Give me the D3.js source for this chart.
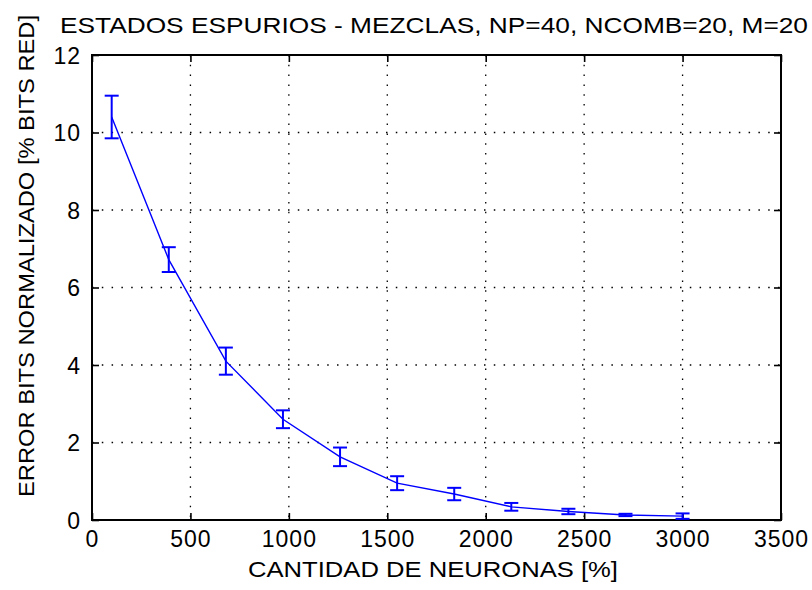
<!DOCTYPE html>
<html>
<head>
<meta charset="utf-8">
<script src="https://cdn.jsdelivr.net/npm/d3@7"></script>
<style>
  body { margin: 0; background: #fff; }
  text { font-family: "Liberation Sans", Arial, sans-serif; fill: #000; }
</style>
</head>
<body>
<div id="chart"></div>
<script>
// data
var neurons = [100, 390, 680, 970, 1260, 1550, 1840, 2130, 2420, 2710, 3000];
var errorMean = [10.4, 6.72, 4.1, 2.6, 1.63, 0.95, 0.67, 0.34, 0.22, 0.13, 0.1];
var errorDev = [0.55, 0.32, 0.35, 0.23, 0.24, 0.18, 0.16, 0.1, 0.07, 0.03, 0.07];
var xTicks = [0, 500, 1000, 1500, 2000, 2500, 3000, 3500];
var yTicks = [0, 2, 4, 6, 8, 10, 12];

var title = "ESTADOS ESPURIOS - MEZCLAS, NP=40, NCOMB=20, M=20";
var xLabel = "CANTIDAD DE NEURONAS [%]";
var yLabel = "ERROR BITS NORMALIZADO [% BITS RED]";

var W = 812, H = 590;
var margin = {top: 55, right: 31, bottom: 70, left: 92},
    width = W - margin.left - margin.right,
    height = H - margin.top - margin.bottom;

var svg = d3.select("#chart")
    .append("svg")
    .attr("width", W)
    .attr("height", H);

svg.append("rect").attr("width", W).attr("height", H).attr("fill", "#fff");

var g = svg.append("g")
    .attr("transform", "translate(" + margin.left + "," + margin.top + ")");

var x = d3.scaleLinear().domain([0, 3500]).range([0, width]);
var y = d3.scaleLinear().domain([0, 12]).range([height, 0]);

// dotted grid
g.append("g").selectAll("line")
    .data(xTicks.slice(1, -1))
    .enter().append("line")
    .attr("x1", function (d) { return x(d); })
    .attr("x2", function (d) { return x(d); })
    .attr("y1", 0).attr("y2", height)
    .attr("stroke", "#000").attr("stroke-width", 1.3)
    .attr("stroke-dasharray", "1.5,8.3");

g.append("g").selectAll("line")
    .data(yTicks.slice(1, -1))
    .enter().append("line")
    .attr("y1", function (d) { return y(d); })
    .attr("y2", function (d) { return y(d); })
    .attr("x1", 0).attr("x2", width)
    .attr("stroke", "#000").attr("stroke-width", 1.3)
    .attr("stroke-dasharray", "1.5,8.3");

// axes with inward ticks on all four sides
var tickLen = 7;
var fmt = d3.format("d");
var bottomAxis = g.append("g")
    .attr("transform", "translate(0," + height + ")")
    .call(d3.axisBottom(x).tickValues(xTicks).tickFormat(fmt).tickSize(-tickLen).tickPadding(tickLen + 6));
var topAxis = g.append("g")
    .call(d3.axisTop(x).tickValues(xTicks).tickSize(-tickLen).tickFormat(""));
var leftAxis = g.append("g")
    .call(d3.axisLeft(y).tickValues(yTicks).tickFormat(fmt).tickSize(-tickLen).tickPadding(tickLen + 4));
var rightAxis = g.append("g")
    .attr("transform", "translate(" + width + ",0)")
    .call(d3.axisRight(y).tickValues(yTicks).tickSize(-tickLen).tickFormat(""));

[bottomAxis, topAxis, leftAxis, rightAxis].forEach(function (a) {
    a.select(".domain").remove();
    a.selectAll("line").attr("stroke", "#000").attr("stroke-width", 1.6);
    a.selectAll("text")
        .style("font-size", "23px")
        .style("letter-spacing", "1px")
        .attr("fill", "#000");
});
bottomAxis.selectAll("text").attr("dy", "0.6em");
leftAxis.selectAll("text").attr("dy", "0.36em");

g.append("rect")
    .attr("width", width).attr("height", height)
    .attr("fill", "none").attr("stroke", "#000").attr("stroke-width", 2);

// line
var line = d3.line()
    .x(function (d, i) { return x(neurons[i]); })
    .y(function (d) { return y(d); });

g.append("path")
    .datum(errorMean)
    .attr("d", line)
    .attr("fill", "none")
    .attr("stroke", "#0000ff")
    .attr("stroke-width", 1.4);

// error bars
var cap = 7;
var bars = g.append("g").selectAll("g")
    .data(errorMean)
    .enter().append("g")
    .attr("stroke", "#0000ff")
    .attr("stroke-width", 2);

bars.append("line")
    .attr("x1", function (d, i) { return x(neurons[i]); })
    .attr("x2", function (d, i) { return x(neurons[i]); })
    .attr("y1", function (d, i) { return y(d - errorDev[i]); })
    .attr("y2", function (d, i) { return y(d + errorDev[i]); });
bars.append("line")
    .attr("x1", function (d, i) { return x(neurons[i]) - cap; })
    .attr("x2", function (d, i) { return x(neurons[i]) + cap; })
    .attr("y1", function (d, i) { return y(d - errorDev[i]); })
    .attr("y2", function (d, i) { return y(d - errorDev[i]); });
bars.append("line")
    .attr("x1", function (d, i) { return x(neurons[i]) - cap; })
    .attr("x2", function (d, i) { return x(neurons[i]) + cap; })
    .attr("y1", function (d, i) { return y(d + errorDev[i]); })
    .attr("y2", function (d, i) { return y(d + errorDev[i]); });

// labels
svg.append("text")
    .attr("x", 434).attr("y", 33)
    .attr("text-anchor", "middle")
    .attr("textLength", 748).attr("lengthAdjust", "spacingAndGlyphs")
    .style("font-size", "22px")
    .text(title);

svg.append("text")
    .attr("x", 433).attr("y", 577)
    .attr("text-anchor", "middle")
    .attr("textLength", 370).attr("lengthAdjust", "spacingAndGlyphs")
    .style("font-size", "22px")
    .text(xLabel);

svg.append("text")
    .attr("transform", "translate(34,256) rotate(-90)")
    .attr("text-anchor", "middle")
    .attr("textLength", 482).attr("lengthAdjust", "spacingAndGlyphs")
    .style("font-size", "22px")
    .text(yLabel);
</script>
</body>
</html>
